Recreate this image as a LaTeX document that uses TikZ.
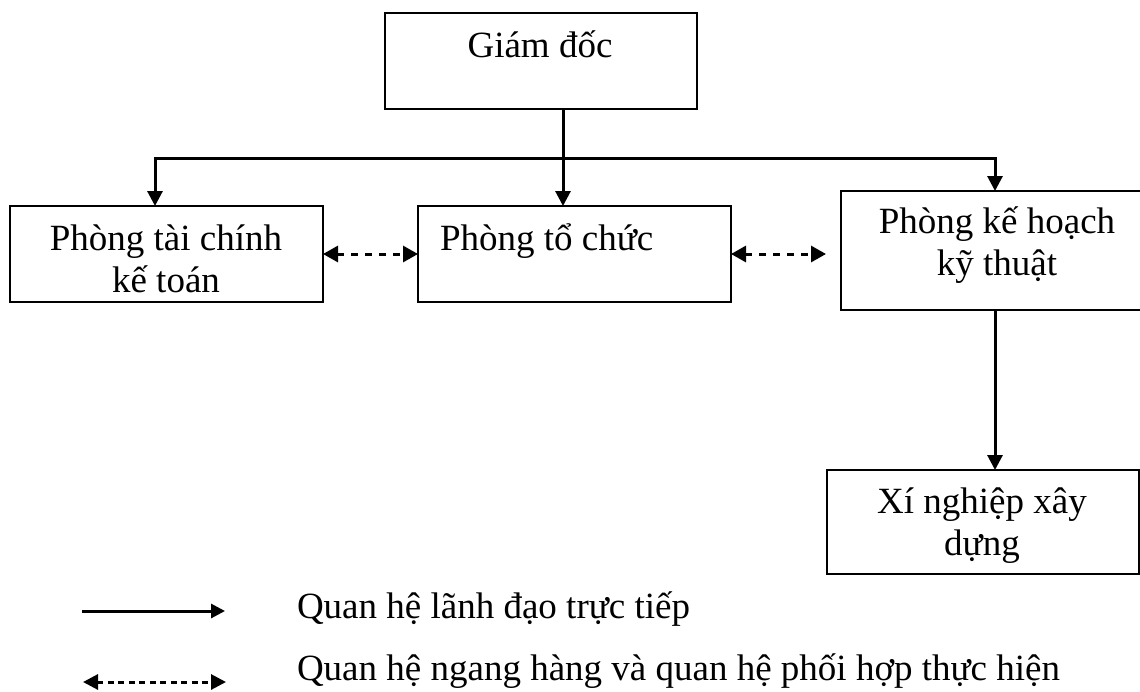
\documentclass[tikz,border=0pt]{standalone}
\usepackage{fontspec}
\setmainfont{Liberation Serif}
\usetikzlibrary{arrows.meta}
\tikzset{
  x=1pt, y=-1pt,
  box/.style={draw, line width=2.2pt, rectangle, inner sep=0pt, outer sep=0pt},
  lbl/.style={inner sep=0pt, outer sep=0pt, anchor=base, font=\fontsize{37}{42}\selectfont},
  conn/.style={line width=3pt},
  tip/.style={Triangle[length=15pt,width=15pt]},
  arr/.style={conn, -{Triangle[length=15pt,width=15pt]}},
  darr/.style={conn, dash pattern=on 7pt off 7pt, {Triangle[length=15pt,width=16pt]}-{Triangle[length=15pt,width=16pt]}},
  legarr/.style={conn, -{Triangle[length=14pt,width=14pt]}},
  legdarr/.style={conn, dash pattern=on 6pt off 4.5pt, {Triangle[length=15pt,width=15pt]}-{Triangle[length=15pt,width=15pt]}}
}
\begin{document}
\begin{tikzpicture}
\useasboundingbox (0,0) rectangle (1140,691);
\clip (0,0) rectangle (1140,691);
% boxes
\node[box, minimum width=312pt, minimum height=96pt] (gd) at (541,61) {};
\node[box, minimum width=313pt, minimum height=96pt] (tck) at (166.5,254) {};
\node[box, minimum width=313pt, minimum height=96pt] (tc) at (574.5,254) {};
\node[box, minimum width=312pt, minimum height=119pt] (kh) at (997,250.5) {};
\node[box, minimum width=312pt, minimum height=104pt] (xn) at (983,522) {};
% texts
\node[lbl] (tgd) at (540,57) {Giám đốc};
\node[lbl] (ttck1) at (166,250) {Phòng tài chính};
\node[lbl] (ttck2) at (166,292) {kế toán};
\node[lbl, anchor=base west] (ttc) at (440,250) {Phòng tổ chức};
\node[lbl] (tkh1) at (997,233) {Phòng kế hoạch};
\node[lbl] (tkh2) at (997,275) {kỹ thuật};
\node[lbl] (txn1) at (982,513) {Xí nghiệp xây};
\node[lbl] (txn2) at (982,555) {dựng};
% connectors
\coordinate (bus) at (563,158);
\draw[arr] ([xshift=22pt]gd.south) -- ([xshift=-11.5pt]tc.north);
\draw[arr] (bus) -| ([xshift=-11.5pt]tck.north);
\draw[arr] (bus) -| ([xshift=-2pt]kh.north);
\draw[arr] ([xshift=-2pt]kh.south) -- ([xshift=12pt]xn.north);
\draw[darr] (tck.east) -- (tc.west);
\coordinate (khin) at (826,254);
\draw[darr] (tc.east) -- (khin);
% legend
\coordinate (l1a) at (82,611);
\coordinate (l1b) at (225,611);
\coordinate (l2a) at (83,682);
\coordinate (l2b) at (226,682);
\draw[legarr] (l1a) -- (l1b);
\draw[legdarr] (l2a) -- (l2b);
\node[lbl, anchor=base west] (leg1) at (297,618) {Quan hệ lãnh đạo trực tiếp};
\node[lbl, anchor=base west] (leg2) at (297,680) {Quan hệ ngang hàng và quan hệ phối hợp thực hiện};
\end{tikzpicture}
\end{document}
